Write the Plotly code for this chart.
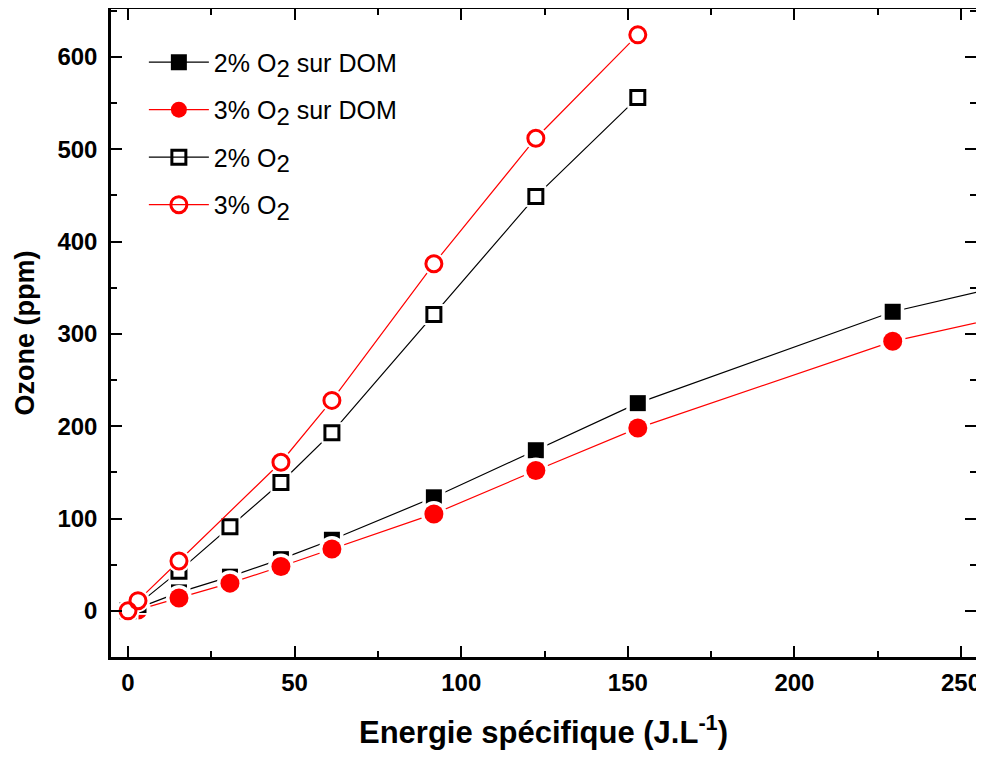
import plotly.graph_objects as go

# Energie spécifique (J.L-1)
x_dom = [0, 3.0, 15.3, 30.6, 45.9, 61.2, 91.8, 122.4, 153.0, 229.5, 306.0]
y_2_dom = [0, 3, 20, 37, 56, 77, 123, 174, 225, 324, 388]
y_3_dom = [0, 1, 14, 30, 48, 67, 105, 152, 198, 292, 353]

x_2 = [0, 3.0, 15.3, 30.6, 45.9, 61.2, 91.8, 122.4, 153.0]
y_2 = [0, 7, 43, 91, 139, 193, 321, 449, 556]

x_3 = [0, 3.0, 15.3, 45.9, 61.2, 91.8, 122.4, 153.0]
y_3 = [0, 11, 54, 161, 228, 376, 512, 624]

x_ticks = [0, 50, 100, 150, 200, 250]
y_ticks = [0, 100, 200, 300, 400, 500, 600]

SUB2 = "<sub><span style='font-size:24px'>2</span></sub>"
names = [f"2% O{SUB2} sur DOM", f"3% O{SUB2} sur DOM", f"2% O{SUB2}", f"3% O{SUB2}"]

FONT = "Liberation Sans, Arial, sans-serif"

series = [
    dict(x=x_dom, y=y_2_dom, name=names[0], color="black",
         marker=dict(symbol="square", size=16, color="black", line=dict(width=0))),
    dict(x=x_dom, y=y_3_dom, name=names[1], color="red",
         marker=dict(symbol="circle", size=19, color="red", line=dict(width=0))),
    dict(x=x_2, y=y_2, name=names[2], color="black",
         marker=dict(symbol="square-open", size=14, color="black", line=dict(width=3))),
    dict(x=x_3, y=y_3, name=names[3], color="red",
         marker=dict(symbol="circle-open", size=16, color="red", line=dict(width=3))),
]

fig = go.Figure()
for s in series:
    fig.add_trace(go.Scatter(x=s["x"], y=s["y"], mode="lines",
                             line=dict(color=s["color"], width=1.2),
                             showlegend=False, hoverinfo="skip"))
    halo_size = s["marker"]["size"] + 7
    fig.add_trace(go.Scatter(x=s["x"], y=s["y"], mode="markers",
                             marker=dict(symbol="circle" if "circle" in s["marker"]["symbol"] else "square",
                                         size=halo_size, color="white", line=dict(width=0)),
                             showlegend=False, hoverinfo="skip"))
    fig.add_trace(go.Scatter(x=s["x"], y=s["y"], mode="markers",
                             marker=s["marker"], showlegend=False))
for i, s in enumerate(series):
    fig.add_trace(go.Scatter(x=[None], y=[None], mode="lines+markers", name=s["name"],
                             legendgroup=f"g{i}",
                             line=dict(color=s["color"], width=1.2),
                             marker=s["marker"]))

axis_common = dict(
    showline=True, linecolor="black", linewidth=2.5, mirror="ticks",
    ticks="inside", ticklen=11, tickwidth=2, tickcolor="black",
    showgrid=False, zeroline=False, automargin=False,
    tickfont=dict(family=FONT, size=24, color="black", weight="bold"),
)

fig.update_xaxes(
    range=[-5.1, 254.5], tickmode="array", tickvals=x_ticks, ticklabelstandoff=2,
    minor=dict(ticks="inside", ticklen=6, tickwidth=2, tickcolor="black", dtick=25, tick0=0),
    title=dict(text="<b>Energie spécifique (J.L<sup>-1</sup>)</b>", standoff=39,
               font=dict(family=FONT, size=31, color="black")),
    **axis_common,
)
fig.update_yaxes(
    range=[-50, 652], tickmode="array", tickvals=y_ticks, ticklabelstandoff=6,
    minor=dict(ticks="inside", ticklen=6, tickwidth=2, tickcolor="black", dtick=50, tick0=0),
    title=dict(text="<b>Ozone (ppm)</b>", standoff=15,
               font=dict(family=FONT, size=27, color="black")),
    **axis_common,
)

# the page body adds an 8 px offset; size the figure to compensate
fig.update_layout(
    width=976, height=742,
    margin=dict(l=103, r=8, t=1, b=93),
    plot_bgcolor="white", paper_bgcolor="white",
    legend=dict(x=0.038, y=0.953, xanchor="left", yanchor="top",
                bgcolor="rgba(0,0,0,0)", itemwidth=60, tracegroupgap=12,
                font=dict(family=FONT, size=25, color="black")),
    showlegend=True,
)

fig.write_html("out.html")
